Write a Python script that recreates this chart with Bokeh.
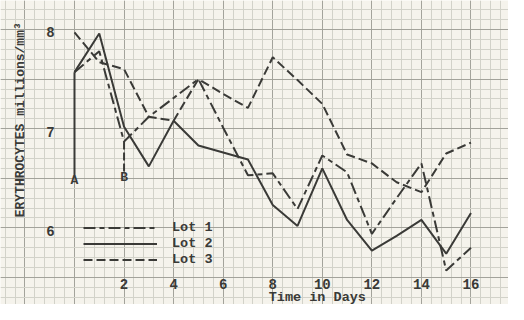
from bokeh.plotting import figure
from bokeh.models import Grid, SingleIntervalTicker, Legend, LegendItem
from bokeh.core.properties import value
from bokeh.embed import file_html
from bokeh.resources import INLINE
import math

# ---- data ----
days = list(range(0, 17))
lot1 = [7.57, 7.78, 6.87, 7.12, 7.31, 7.50, 7.01, 6.53, 6.55, 6.19, 6.73, 6.56, 5.94, 6.30, 6.65, 5.57, 5.80]
lot2 = [7.57, 7.96, 7.02, 6.62, 7.08, 6.83, 6.76, 6.69, 6.23, 6.02, 6.60, 6.08, 5.77, 5.92, 6.08, 5.74, 6.15]
lot3 = [7.97, 7.67, 7.60, 7.12, 7.08, 7.50, 7.35, 7.21, 7.72, 7.49, 7.25, 6.74, 6.65, 6.46, 6.36, 6.75, 6.86]
series_names = ["Lot 1", "Lot 2", "Lot 3"]

x_ticks = [2, 4, 6, 8, 10, 12, 14, 16]
y_ticks = [8, 7, 6]

markers = ["A", "B"]
marker_days = [0, 2]
marker_top = [7.57, 6.87]
marker_bottom = [6.53, 6.56]

x_title = "Time in Days"
y_title = "ERYTHROCYTES millions/mm\u00b3"

# ---- style ----
PAPER = "#f5f3ec"
MAJOR = "#a3a39b"
MINOR = "#d2d2c9"
INK = "#3a3a37"
FONT = value("Liberation Mono")
XLAB_Y = 5.43
XTITLE_Y = 5.30

p = figure(width=508, height=304, x_range=(-2.986, 17.514), y_range=(5.2278, 8.2923),
           x_axis_type=None, y_axis_type=None, output_backend="svg",
           toolbar_location=None, min_border=0,
           background_fill_color=PAPER, border_fill_color=PAPER,
           outline_line_color=None)

p.add_layout(Grid(dimension=0, ticker=SingleIntervalTicker(interval=2, num_minor_ticks=5),
                  grid_line_color=MAJOR, grid_line_width=1,
                  minor_grid_line_color=MINOR, minor_grid_line_width=1))
p.add_layout(Grid(dimension=1, ticker=SingleIntervalTicker(interval=0.5, num_minor_ticks=5),
                  grid_line_color=MAJOR, grid_line_width=1,
                  minor_grid_line_color=MINOR, minor_grid_line_width=1))

r1 = p.line(days, lot1, line_color=INK, line_width=2, line_dash="12 4 5 4")
r2 = p.line(days, lot2, line_color=INK, line_width=2)
r3 = p.line(days, lot3, line_color=INK, line_width=2, line_dash="9 4")

# A / B marker lines
p.segment(x0=marker_days[:1], y0=marker_top[:1], x1=marker_days[:1], y1=marker_bottom[:1],
          line_color=INK, line_width=2)
p.segment(x0=marker_days[1:], y0=marker_top[1:], x1=marker_days[1:], y1=marker_bottom[1:],
          line_color=INK, line_width=2, line_dash="8 3")
p.text(x=marker_days, y=[b - 0.05 for b in marker_bottom], text=markers,
       text_font=FONT, text_font_size="13px", text_font_style="bold",
       text_color=INK, text_align="center", text_baseline="middle")

# tick labels on the paper
p.text(x=x_ticks, y=[XLAB_Y] * len(x_ticks), text=[str(t) for t in x_ticks],
       text_font=FONT, text_font_size="14px", text_font_style="bold",
       text_color=INK, text_align="center", text_baseline="middle")
p.text(x=[-0.97] * len(y_ticks), y=y_ticks, text=[str(t) for t in y_ticks], y_offset=3,
       text_font=FONT, text_font_size="14px", text_font_style="bold",
       text_color=INK, text_align="center", text_baseline="middle")

# axis titles
p.text(x=[9.8], y=[XTITLE_Y], text=[x_title],
       text_font=FONT, text_font_size="13.5px", text_font_style="bold",
       text_color=INK, text_align="center", text_baseline="middle")
p.text(x=[-2.18], y=[7.09], text=[y_title], angle=math.pi / 2,
       text_font=FONT, text_font_size="13px", text_font_style="bold",
       text_color=INK, text_align="center", text_baseline="middle")

legend = Legend(items=[LegendItem(label=series_names[0], renderers=[r1]),
                       LegendItem(label=series_names[1], renderers=[r2]),
                       LegendItem(label=series_names[2], renderers=[r3])],
                location=(83, 37), glyph_width=74, glyph_height=15, label_height=15,
                spacing=1, padding=0, margin=0, label_standoff=15,
                background_fill_alpha=0, border_line_alpha=0,
                label_text_font="Liberation Mono", label_text_font_size="13.5px",
                label_text_font_style="bold", label_text_color=INK)
p.add_layout(legend)

open("out.html", "w").write(file_html(p, INLINE))
